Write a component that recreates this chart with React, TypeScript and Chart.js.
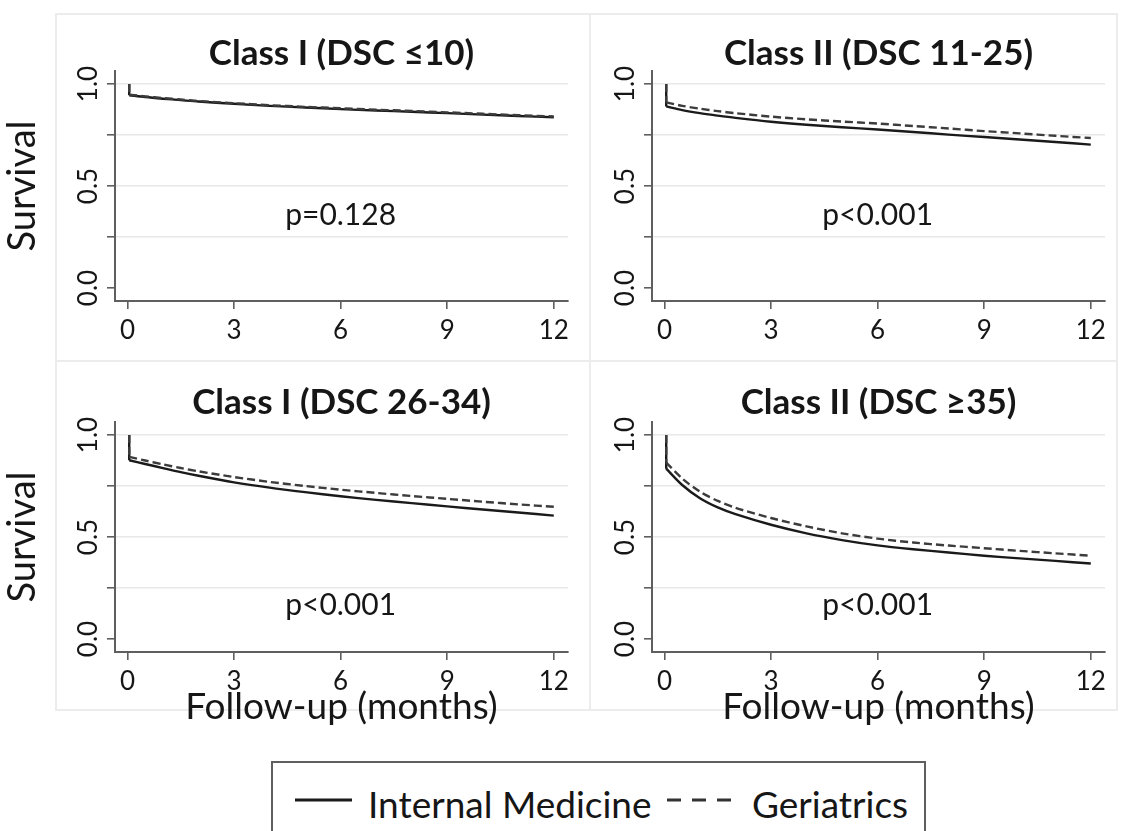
import React, { useEffect, useRef } from 'react';
import { Chart, registerables } from 'chart.js';

Chart.register(...registerables);

// ---------- data ----------
const months = [0.05, 0.05, 0.5, 1, 1.5, 2, 3, 4, 5, 6, 7, 8, 9, 10, 11, 12];
const xTicks = [0, 3, 6, 9, 12];
const yTicks = [0, 0.25, 0.5, 0.75, 1];
const yLabeled = [0, 0.5, 1];
const seriesNames = ['Internal Medicine', 'Geriatrics'];

const panelTitles = ['Class I (DSC ≤10)', 'Class II (DSC 11-25)', 'Class I (DSC 26-34)', 'Class II (DSC ≥35)'];
const pLabels = ['p=0.128', 'p<0.001', 'p<0.001', 'p<0.001'];
const pLabelX = [6, 6, 6, 6];
const pLabelY = [0.355, 0.355, 0.165, 0.165];

const imClass1Low = [1.0, 0.945, 0.936, 0.928, 0.921, 0.914, 0.903, 0.893, 0.885, 0.877, 0.87, 0.864, 0.857, 0.85, 0.843, 0.837];
const geClass1Low = [1.0, 0.948, 0.939, 0.931, 0.924, 0.917, 0.906, 0.896, 0.888, 0.881, 0.874, 0.868, 0.861, 0.854, 0.847, 0.841];
const imClass2Low = [1.0, 0.89, 0.872, 0.857, 0.845, 0.834, 0.815, 0.8, 0.788, 0.777, 0.765, 0.752, 0.74, 0.728, 0.716, 0.703];
const geClass2Low = [1.0, 0.91, 0.893, 0.879, 0.867, 0.857, 0.84, 0.827, 0.816, 0.806, 0.794, 0.782, 0.769, 0.758, 0.746, 0.735];
const imClass1High = [1.0, 0.876, 0.858, 0.838, 0.818, 0.8, 0.768, 0.742, 0.72, 0.7, 0.682, 0.666, 0.65, 0.635, 0.62, 0.605];
const geClass1High = [1.0, 0.893, 0.875, 0.856, 0.838, 0.822, 0.794, 0.77, 0.75, 0.732, 0.716, 0.701, 0.687, 0.673, 0.66, 0.648];
const imClass2High = [1.0, 0.835, 0.755, 0.69, 0.645, 0.612, 0.56, 0.518, 0.485, 0.459, 0.44, 0.424, 0.408, 0.395, 0.383, 0.37];
const geClass2High = [1.0, 0.865, 0.787, 0.722, 0.677, 0.643, 0.593, 0.552, 0.518, 0.492, 0.473, 0.458, 0.445, 0.432, 0.42, 0.408];

const panelSeries = [
  [imClass1Low, geClass1Low],
  [imClass2Low, geClass2Low],
  [imClass1High, geClass1High],
  [imClass2High, geClass2High],
];

// ---------- layout ----------
const FONT = 'Lato';
const TEXT = '#161616';
const AXIS = '#5f5f5f';

type PanelLayout = {
  left: number; top: number; w: number; h: number;
  yW: number; xH: number; padRight: number;
  titleTop: number; titleBottom: number;
  yTitle: boolean; xTitle: boolean;
};

const layouts: PanelLayout[] = [
  { left: 0, top: 0, w: 590, h: 362, yW: 115, xH: 61, padRight: 22, titleTop: 36, titleBottom: 0, yTitle: true, xTitle: false },
  { left: 590, top: 0, w: 534, h: 362, yW: 62, xH: 61, padRight: 19, titleTop: 36, titleBottom: 0, yTitle: false, xTitle: false },
  { left: 0, top: 362, w: 590, h: 380, yW: 115, xH: 90, padRight: 22, titleTop: 23.5, titleBottom: 1.5, yTitle: true, xTitle: true },
  { left: 590, top: 362, w: 534, h: 380, yW: 62, xH: 90, padRight: 19, titleTop: 23.5, titleBottom: 1.5, yTitle: false, xTitle: true },
];

const styles = [
  { color: '#1a1a1a', dash: [] as number[], order: 2 },
  { color: '#3c3c3c', dash: [8, 4], order: 1 },
];

const pTextPlugin = {
  id: 'pText',
  afterDatasetsDraw(chart: any, _args: any, opts: any) {
    const { ctx, scales } = chart;
    ctx.save();
    ctx.font = `30px ${FONT}`;
    ctx.fillStyle = TEXT;
    ctx.textAlign = 'center';
    ctx.textBaseline = 'middle';
    ctx.fillText(opts.text, scales.x.getPixelForValue(opts.x), scales.y.getPixelForValue(opts.y));
    ctx.restore();
  },
};

function Panel({ idx }: { idx: number }) {
  const ref = useRef<HTMLCanvasElement | null>(null);
  const L = layouts[idx];
  useEffect(() => {
    if (!ref.current) return;
    const datasets: any[] = [];
    panelSeries[idx].forEach((vals, s) => {
      const pts = months.map((m, i) => ({ x: m, y: vals[i] }));
      const st = styles[s];
      const base = {
        label: seriesNames[s],
        showLine: true,
        borderColor: st.color,
        borderWidth: 2.4,
        borderDash: st.dash,
        pointRadius: 0,
        fill: false,
        order: st.order,
      };
      // initial step drop (straight) and the smooth survival curve after it
      datasets.push({ ...base, data: pts.slice(0, 2), tension: 0 });
      datasets.push({ ...base, data: pts.slice(1), tension: 0.3 });
    });
    const chart = new Chart(ref.current, {
      type: 'scatter',
      data: { datasets },
      options: {
        animation: false,
        responsive: false,
        maintainAspectRatio: false,
        events: [],
        layout: { padding: { left: 0, right: L.padRight, top: 0, bottom: 0 } },
        plugins: {
          legend: { display: false },
          tooltip: { enabled: false },
          title: {
            display: true,
            text: panelTitles[idx],
            fullSize: false,
            color: TEXT,
            font: { family: FONT, size: 35, weight: 'bold', lineHeight: 1 },
            padding: { top: L.titleTop, bottom: L.titleBottom },
          },
          // @ts-ignore
          pText: { text: pLabels[idx], x: pLabelX[idx], y: pLabelY[idx] },
        },
        scales: {
          x: {
            type: 'linear',
            min: -0.35,
            max: 12.4,
            afterBuildTicks: (s: any) => { s.ticks = xTicks.map((v) => ({ value: v })); },
            afterFit: (s: any) => { s.height = L.xH; },
            ticks: {
              autoSkip: false,
              minRotation: 0,
              maxRotation: 0,
              padding: 6,
              color: TEXT,
              font: { family: FONT, size: 26, lineHeight: 1.2 },
              callback: (v: any) => String(v),
            },
            grid: { drawOnChartArea: false, drawTicks: true, tickLength: 8, color: AXIS, lineWidth: 1.6 },
            border: { display: true, color: AXIS, width: 2 },
            title: {
              display: L.xTitle,
              text: 'Follow-up (months)',
              color: TEXT,
              font: { family: FONT, size: 37, lineHeight: 1 },
              padding: { top: 0, bottom: 16.5 },
            },
          },
          y: {
            type: 'linear',
            min: -0.0637,
            max: 1.0637,
            afterBuildTicks: (s: any) => { s.ticks = yTicks.map((v) => ({ value: v })); },
            afterFit: (s: any) => { s.width = L.yW; },
            ticks: {
              autoSkip: false,
              minRotation: 90,
              maxRotation: 90,
              crossAlign: 'center',
              padding: 0,
              color: TEXT,
              font: { family: FONT, size: 26, lineHeight: 1.2 },
              callback: (v: any) => (yLabeled.includes(Number(v)) ? Number(v).toFixed(1) : ''),
            },
            grid: {
              drawOnChartArea: true,
              drawTicks: true,
              tickLength: 8,
              lineWidth: 1.6,
              color: (c: any) => (c.tick && c.tick.value === 0 ? 'rgba(0,0,0,0)' : '#e8e8e8'),
              tickColor: AXIS,
            },
            border: { display: true, color: AXIS, width: 2 },
            title: {
              display: L.yTitle,
              text: 'Survival',
              color: TEXT,
              font: { family: FONT, size: 38, lineHeight: 1 },
              padding: { top: 4, bottom: 0 },
            },
          },
        },
      } as any,
      plugins: [pTextPlugin],
    });
    return () => chart.destroy();
  }, [idx]);
  return (
    <canvas
      ref={ref}
      width={L.w}
      height={L.h}
      style={{ position: 'absolute', left: L.left, top: L.top, width: L.w, height: L.h }}
    />
  );
}

const frameColor = '#ececec';

export default function App() {
  return (
    <div style={{ position: 'absolute', left: 0, top: 0, width: 1124, height: 831, background: '#fff', overflow: 'hidden', fontFamily: FONT }}>
      {/* panel frames */}
      <div style={{ position: 'absolute', left: 55, top: 13, width: 1063, height: 698, border: `2px solid ${frameColor}`, boxSizing: 'border-box' }} />
      <div style={{ position: 'absolute', left: 589, top: 13, width: 2, height: 698, background: frameColor }} />
      <div style={{ position: 'absolute', left: 55, top: 360, width: 1063, height: 2, background: frameColor }} />
      {[0, 1, 2, 3].map((i) => <Panel key={i} idx={i} />)}
      {/* legend */}
      <div style={{ position: 'absolute', left: 271, top: 761, width: 655, height: 110, border: `2px solid ${AXIS}`, boxSizing: 'border-box', background: '#fff' }}>
        <svg width={57} height={6} style={{ position: 'absolute', left: 22, top: 34 }}>
          <line x1={0} y1={3} x2={57} y2={3} stroke="#1a1a1a" strokeWidth={3} />
        </svg>
        <span style={{ position: 'absolute', left: 95, top: 21, fontSize: 37, lineHeight: '40px', color: TEXT, whiteSpace: 'nowrap' }}>{seriesNames[0]}</span>
        <svg width={68} height={6} style={{ position: 'absolute', left: 394, top: 34 }}>
          <line x1={0} y1={3} x2={68} y2={3} stroke="#333" strokeWidth={3} strokeDasharray="14 11" />
        </svg>
        <span style={{ position: 'absolute', left: 479, top: 21, fontSize: 37, lineHeight: '40px', color: TEXT, whiteSpace: 'nowrap' }}>{seriesNames[1]}</span>
      </div>
    </div>
  );
}
